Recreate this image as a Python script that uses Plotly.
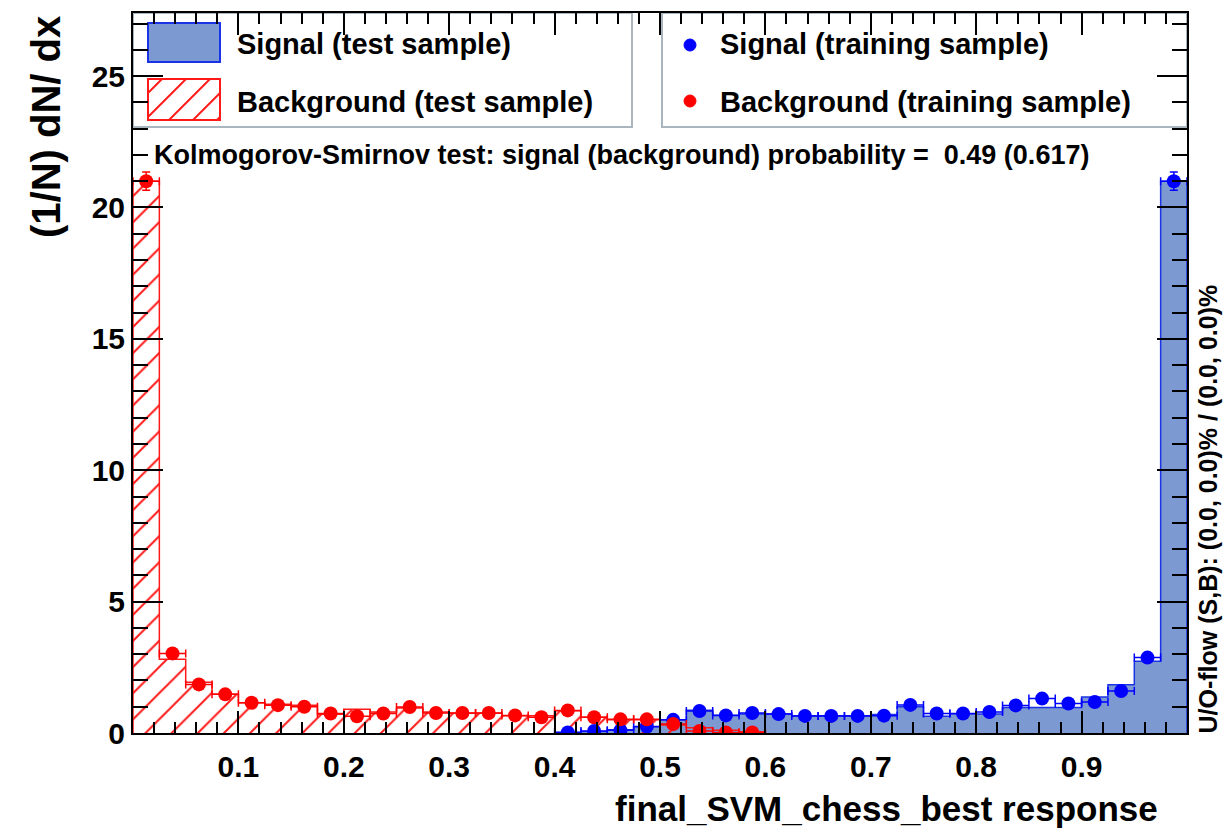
import numpy as np
import plotly.graph_objects as go

# ---------------- data ----------------
bin_edges = [round(i * 0.025, 4) for i in range(41)]
bin_centers = [round(0.0125 + i * 0.025, 4) for i in range(40)]

sig_test = [0, 0, 0, 0, 0, 0, 0, 0, 0, 0,
            0, 0, 0, 0, 0, 0, 0.03, 0.06, 0.12, 0.24,
            0.50, 0.87, 0.68, 0.72, 0.72, 0.66, 0.66, 0.66, 0.70, 1.00,
            0.64, 0.73, 0.72, 0.97, 0.97, 0.97, 1.37, 1.84, 2.73, 21.0]

bkg_test = [21.0, 2.81, 1.93, 1.47, 1.15, 1.09, 1.06, 0.71, 0.90, 0.80,
            0.95, 0.80, 0.75, 0.75, 0.66, 0.66, 0.85, 0.60, 0.50, 0.50,
            0.30, 0.20, 0.10, 0.05, 0, 0, 0, 0, 0, 0,
            0, 0, 0, 0, 0, 0, 0, 0, 0, 0]

sig_train = [None] * 16 + [0.02, 0.08, 0.10, 0.25,
             0.50, 0.84, 0.67, 0.76, 0.72, 0.65, 0.65, 0.65, 0.66, 1.07,
             0.74, 0.74, 0.80, 1.05, 1.31, 1.12, 1.18, 1.60, 2.87, 21.0]
sig_train_err = [None] * 16 + [0.01, 0.02, 0.03, 0.04,
                 0.05, 0.06, 0.06, 0.06, 0.06, 0.06, 0.06, 0.06, 0.06, 0.07,
                 0.06, 0.06, 0.06, 0.07, 0.08, 0.07, 0.07, 0.08, 0.11, 0.35]

bkg_train = [21.0, 3.03, 1.85, 1.47, 1.15, 1.06, 1.00, 0.74, 0.64, 0.74,
             0.99, 0.76, 0.76, 0.76, 0.67, 0.60, 0.86, 0.60, 0.52, 0.52,
             0.34, 0.08, 0.02, 0.02] + [None] * 16
bkg_train_err = [0.35, 0.12, 0.09, 0.08, 0.07, 0.07, 0.06, 0.06, 0.05, 0.06,
                 0.06, 0.06, 0.06, 0.06, 0.05, 0.05, 0.06, 0.05, 0.05, 0.05,
                 0.04, 0.02, 0.01, 0.01] + [None] * 16

x_tick_vals = [0.1, 0.2, 0.3, 0.4, 0.5, 0.6, 0.7, 0.8, 0.9]
x_tick_text = ["0.1", "0.2", "0.3", "0.4", "0.5", "0.6", "0.7", "0.8", "0.9"]

ks_text = "Kolmogorov-Smirnov test: signal (background) probability =  0.49 (0.617)"
flow_text = "U/O-flow (S,B): (0.0, 0.0)% / (0.0, 0.0)%"

# ---------------- styles ----------------
FONT = "Liberation Sans"
SIG_FILL = "#7d99d1"
SIG_LINE = "#1a33e6"
BKG_LINE = "#ff1a1a"
W, H = 1225, 834
L, R, T, B = 133, 1187, 13, 733


def px(x):
    return (x - L) / (R - L)


def py(y):
    return (B - y) / (B - T)


def step_xy(vals):
    nz = [i for i, v in enumerate(vals) if v > 0]
    i0, i1 = nz[0], nz[-1]
    xs = [bin_edges[i0]] + bin_edges[i0:i1 + 1] + [bin_edges[i1 + 1], bin_edges[i1 + 1]]
    ys = [0] + list(vals[i0:i1 + 1]) + [vals[i1], 0]
    return xs, ys


fig = go.Figure()

sx, sy = step_xy(sig_test)
fig.add_trace(go.Scatter(x=sx, y=sy, mode="lines", line=dict(shape="hv", color=SIG_LINE, width=1.5),
                         fill="tozeroy", fillcolor=SIG_FILL, showlegend=False, hoverinfo="skip"))

bx, by = step_xy(bkg_test)
fig.add_trace(go.Scatter(x=bx, y=by, mode="lines", line=dict(shape="hv", color=BKG_LINE, width=1.5),
                         fill="tozeroy", fillcolor="rgba(0,0,0,0)",
                         fillpattern=dict(shape="/", fgcolor=BKG_LINE, bgcolor="rgba(0,0,0,0)",
                                          fgopacity=1, size=18.5, solidity=0.11),
                         showlegend=False, hoverinfo="skip"))

for vals, errs, col in [(sig_train, sig_train_err, "#0000ff"), (bkg_train, bkg_train_err, "#ff0000")]:
    fig.add_trace(go.Scatter(
        x=bin_centers, y=vals, mode="markers",
        marker=dict(color=col, size=14),
        error_x=dict(type="constant", value=0.0125, color=col, thickness=1.5, width=4),
        error_y=dict(type="data", array=errs, color=col, thickness=1.5, width=4),
        showlegend=False))

shapes = []
ann = []
# legend boxes
box_col = "#a9b6bf"
shapes.append(dict(type="rect", xref="paper", yref="paper", x0=px(133), x1=px(632), y0=py(127), y1=py(13),
                   line=dict(color=box_col, width=2), fillcolor="white", layer="below"))
shapes.append(dict(type="rect", xref="paper", yref="paper", x0=px(662), x1=px(1187), y0=py(127), y1=py(13),
                   line=dict(color=box_col, width=2), fillcolor="white", layer="below"))
# signal swatch
shapes.append(dict(type="rect", xref="paper", yref="paper", x0=px(148), x1=px(220), y0=py(62), y1=py(23),
                   line=dict(color=SIG_LINE, width=2), fillcolor=SIG_FILL, layer="below"))
# background swatch
sx0, sx1, sy0, sy1 = 148, 220, 79, 120
shapes.append(dict(type="rect", xref="paper", yref="paper", x0=px(sx0), x1=px(sx1), y0=py(sy1), y1=py(sy0),
                   line=dict(color=BKG_LINE, width=2), fillcolor="white", layer="below"))
for c in range(sx0 + sy0 + 14, sx1 + sy1, 24):
    xa = max(sx0, c - sy1)
    xb = min(sx1, c - sy0)
    if xb <= xa:
        continue
    shapes.append(dict(type="line", xref="paper", yref="paper",
                       x0=px(xa), y0=py(c - xa), x1=px(xb), y1=py(c - xb),
                       line=dict(color=BKG_LINE, width=2), layer="below"))
# training markers in legend
for yc, col in [(45, "#0000ff"), (101, "#ff0000")]:
    shapes.append(dict(type="circle", xref="paper", yref="paper",
                       x0=px(684), x1=px(696), y0=py(yc + 6), y1=py(yc - 6),
                       line=dict(color=col, width=1), fillcolor=col, layer="below"))

leg_font = dict(family=FONT, size=29, color="black", weight="bold")
for xx, yy, txt in [(235, 44, "Signal (test sample)"), (235, 102, "Background (test sample)"),
                    (718, 44, "Signal (training sample)"), (718, 102, "Background (training sample)")]:
    ann.append(dict(text=txt, xref="paper", yref="paper", x=px(xx), y=py(yy), xanchor="left", yanchor="middle",
                    showarrow=False, font=leg_font))

ann.append(dict(text=ks_text, xref="paper", yref="paper", x=px(152), y=py(155), xanchor="left", yanchor="middle",
                showarrow=False, font=dict(family=FONT, size=27, color="black", weight="bold")))
ann.append(dict(text="final_SVM_chess_best response", xref="paper", yref="paper", x=px(1160), y=py(808),
                xanchor="right", yanchor="middle", showarrow=False,
                font=dict(family=FONT, size=35, color="black", weight="bold")))
ann.append(dict(text="(1/N) dN/ dx", xref="paper", yref="paper", x=px(46), y=py(14), xanchor="center",
                yanchor="top", textangle=-90, showarrow=False,
                font=dict(family=FONT, size=40, color="black", weight="bold")))
ann.append(dict(text=flow_text, xref="paper", yref="paper", x=px(1207), y=py(736), xanchor="center",
                yanchor="bottom", textangle=-90, showarrow=False,
                font=dict(family=FONT, size=25, color="black", weight="bold")))

fig.update_layout(
    width=W, height=H,
    margin=dict(l=L, r=W - R, t=T, b=H - B, pad=0),
    paper_bgcolor="white", plot_bgcolor="white",
    font=dict(family=FONT, color="black", weight="bold"),
    shapes=shapes, annotations=ann, showlegend=False,
    xaxis=dict(range=[0, 1], tickmode="array", tickvals=x_tick_vals, ticktext=x_tick_text,
               ticks="inside", ticklen=22, tickwidth=2, tickcolor="black", ticklabelstandoff=6,
               minor=dict(tickmode="linear", tick0=0, dtick=0.02, ticks="inside", ticklen=11,
                          tickwidth=2, tickcolor="black"),
               showline=True, linecolor="black", linewidth=2, mirror="ticks",
               showgrid=False, zeroline=False, layer="above traces",
               tickfont=dict(family=FONT, size=30, color="black", weight="bold")),
    yaxis=dict(range=[0, 27.4], tickmode="linear", tick0=0, dtick=5,
               ticks="inside", ticklen=30, tickwidth=2, tickcolor="black",
               minor=dict(tickmode="linear", tick0=0, dtick=1, ticks="inside", ticklen=15,
                          tickwidth=2, tickcolor="black"),
               showline=True, linecolor="black", linewidth=2, mirror="ticks",
               showgrid=False, zeroline=False, layer="above traces",
               tickfont=dict(family=FONT, size=30, color="black", weight="bold")),
)

fig.write_html("out.html")
